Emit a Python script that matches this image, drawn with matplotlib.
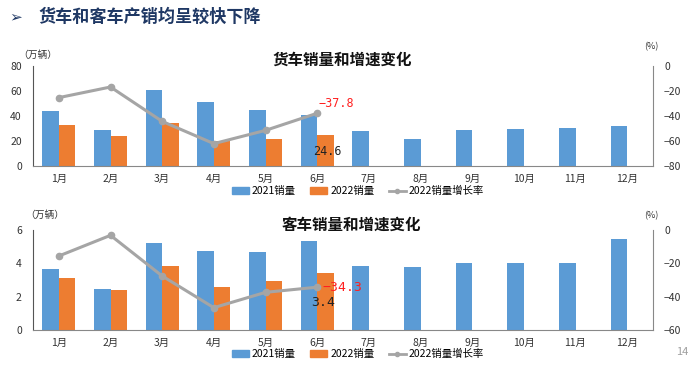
import matplotlib
matplotlib.use("Agg")
import matplotlib.pyplot as plt
import numpy as np
from matplotlib.lines import Line2D
from matplotlib.patches import Patch

plt.rcParams['font.family'] = ['Noto Sans CJK SC', 'DejaVu Sans']

months = ['1月', '2月', '3月', '4月', '5月', '6月', '7月', '8月', '9月', '10月', '11月', '12月']

truck_2021 = [43.7, 28.5, 61.1, 51.5, 45.1, 40.5, 28.3, 21.9, 28.5, 29.6, 30.1, 32.0]
truck_2022 = [32.5, 23.7, 34.4, 20.3, 21.9, 24.6]
truck_growth = [-25.3, -16.8, -44.3, -62.1, -51.5, -37.8]

bus_2021 = [3.66, 2.46, 5.24, 4.76, 4.70, 5.34, 3.84, 3.78, 4.00, 4.00, 4.04, 5.44]
bus_2022 = [3.10, 2.40, 3.82, 2.56, 2.94, 3.40]
bus_growth = [-15.6, -3.2, -27.6, -46.6, -37.4, -34.3]

legend_labels = ['2021销量', '2022销量', '2022销量增长率']
titles = ['货车销量和增速变化', '客车销量和增速变化']

BLUE = '#5B9BD5'
ORANGE = '#ED7D31'
GRAY = '#A5A5A5'

W, H = 692, 372
fig = plt.figure(figsize=(W / 100, H / 100), dpi=100)
fig.patch.set_facecolor('white')

def px(x0, y_top, w, h):
    return [x0 / W, 1 - (y_top + h) / H, w / W, h / H]

fig.text(9 / W, 1 - 17 / H, '➢', fontsize=11, color='#1F3864', va='center', ha='left',
         family=['DejaVu Sans'], fontweight='bold')
fig.text(38 / W, 1 - 17 / H, '货车和客车产销均呈较快下降', fontsize=12.3, fontweight='bold',
         color='#1F3864', va='center', ha='left')
fig.text(682 / W, 1 - 352 / H, '14', fontsize=8, color='#A0A0A0', va='center', ha='center')

def draw(ax_rect, v21, v22, growth, ylim, y2lim, yticks, y2ticks, title, title_xy, unit_xy, pct_xy,
         legend_y, growth_label_pos, value_label_pos, ann_size):
    ax = fig.add_axes(ax_rect)
    x = np.arange(len(months))
    bw = 0.32
    ax.bar(x - bw / 2, v21, width=bw, color=BLUE, zorder=2)
    x22 = np.arange(len(v22))
    ax.bar(x22 + bw / 2, v22, width=bw, color=ORANGE, zorder=2)
    ax.set_xlim(-0.5, len(months) - 0.5)
    ax.set_ylim(*ylim)
    ax.set_yticks(yticks)
    ax.set_xticks(x)
    ax.set_xticklabels(months, fontsize=7.5, color='#333333')
    ax.tick_params(axis='both', length=0, labelsize=7.5, colors='#333333')
    ax.tick_params(axis='x', pad=6)
    ax.tick_params(axis='y', pad=8)
    for s in ['top', 'right']:
        ax.spines[s].set_visible(False)
    ax.spines['left'].set_color('#555555')
    ax.spines['bottom'].set_color('#888888')

    ax2 = ax.twinx()
    ax2.plot(x22, growth, color=GRAY, lw=2.2, marker='o', ms=4.5, zorder=3)
    ax2.set_ylim(*y2lim)
    ax2.set_yticks(y2ticks)
    ax2.tick_params(axis='y', length=0, labelsize=7.5, colors='#333333', pad=8)
    for s in ['top', 'left', 'bottom']:
        ax2.spines[s].set_visible(False)
    ax2.spines['right'].set_color('#888888')

    ax2.text(growth_label_pos[0], growth_label_pos[1], f'{growth[-1]:.1f}'.replace('-', '−'),
             color='#FF2020', fontsize=ann_size, ha='left', va='center',
             family=['DejaVu Sans Mono'], zorder=5)
    ax.text(value_label_pos[0], value_label_pos[1], f'{v22[-1]:.1f}', color='#222222', fontsize=ann_size,
            ha='center', va='center', family=['DejaVu Sans Mono'], zorder=5)

    fig.text(title_xy[0] / W, 1 - title_xy[1] / H, title, fontsize=11.2, fontweight='bold', color='#111111',
             ha='center', va='center')
    fig.text(unit_xy[0] / W, 1 - unit_xy[1] / H, '（万辆）', fontsize=7, color='#333333', ha='left', va='center')
    fig.text(pct_xy[0] / W, 1 - pct_xy[1] / H, '(%)', fontsize=6.5, color='#333333', ha='center', va='center')

    handles = [Patch(color=BLUE), Patch(color=ORANGE),
               Line2D([0], [0], color=GRAY, lw=2, marker='o', ms=3)]
    fig.legend(handles, legend_labels, loc='center', bbox_to_anchor=(358 / W, 1 - legend_y / H),
               ncol=3, frameon=False, fontsize=7.5, handlelength=1.6, handleheight=0.6,
               columnspacing=1.4, handletextpad=0.3)
    return ax

draw(px(33, 66, 620, 100), truck_2021, truck_2022, truck_growth, (0, 80), (-80, 0),
     [0, 20, 40, 60, 80], [0, -20, -40, -60, -80], titles[0], (342, 60), (18, 55), (651, 47), 191,
     (5.02, -30.0), (5.19, 11.6), 8.5)
draw(px(33, 230, 620, 100), bus_2021, bus_2022, bus_growth, (0, 6), (-60, 0),
     [0, 2, 4, 6], [0, -20, -40, -60], titles[1], (351, 225), (25, 215), (651, 216), 354,
     (5.1, -34.6), (5.12, 1.68), 9.5)

fig.savefig('out.png', dpi=100, facecolor='white')
